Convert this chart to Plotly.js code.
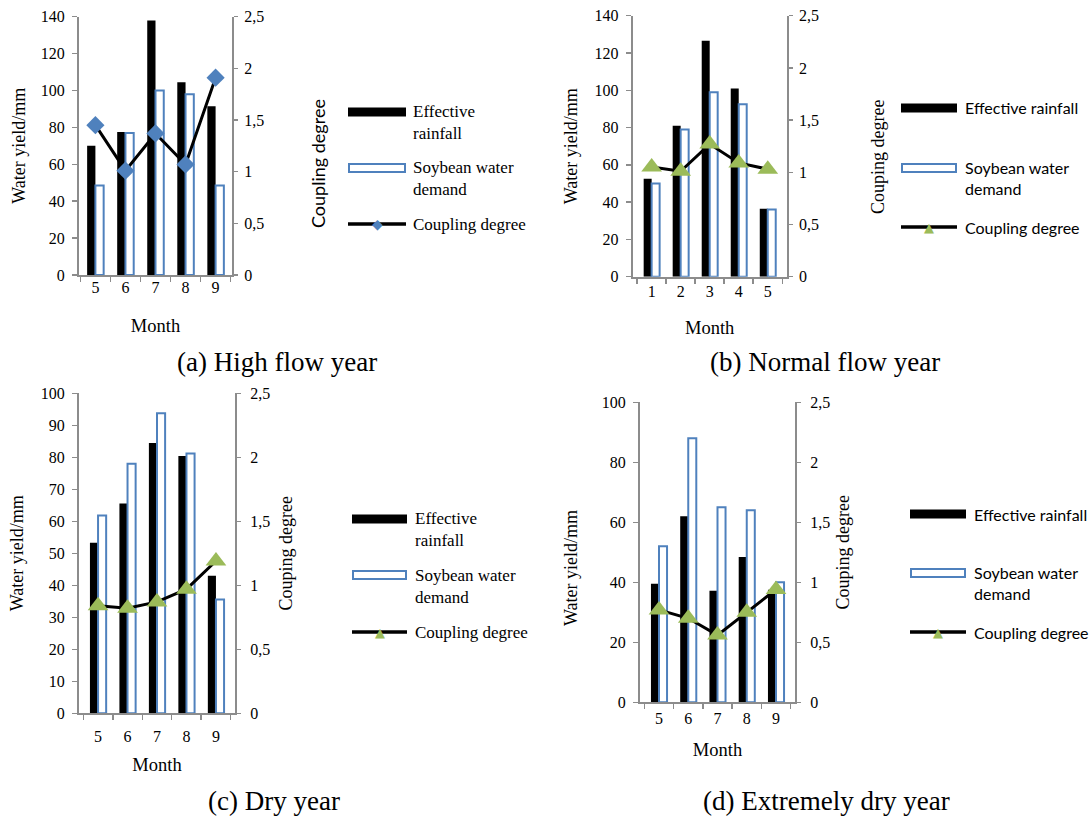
<!DOCTYPE html>
<html><head><meta charset="utf-8">
<script src="https://cdn.plot.ly/plotly-3.0.1.min.js"></script>
<style>html,body{margin:0;padding:0;background:#fff}#chart{width:1092px;height:816px}</style>
</head><body><div id="chart"></div>
<script>
// ---- data ----
const monthsA = ["5","6","7","8","9"];
const rainA = [70, 77.5, 138, 104.5, 91.5];
const demandA = [48.5, 77, 100, 98, 48.5];
const couplingA = [1.45, 1.01, 1.37, 1.07, 1.91];

const monthsB = ["1","2","3","4","5"];
const rainB = [52.5, 81, 126.5, 101, 36.5];
const demandB = [50, 79, 99, 92.5, 36];
const couplingB = [1.05, 1.01, 1.27, 1.09, 1.03];

const monthsC = ["5","6","7","8","9"];
const rainC = [53.3, 65.6, 84.5, 80.4, 43];
const demandC = [61.8, 78, 93.8, 81.2, 35.6];
const couplingC = [0.84, 0.82, 0.87, 0.97, 1.19];

const monthsD = ["5","6","7","8","9"];
const rainD = [39.5, 62, 37.2, 48.4, 37.5];
const demandD = [52, 88, 65, 64, 40];
const couplingD = [0.77, 0.70, 0.56, 0.75, 0.94];

const seriesNames = ["Effective rainfall", "Soybean water demand", "Coupling degree"];
const captions = ["(a) High flow year", "(b) Normal flow year", "(c) Dry year", "(d) Extremely dry year"];
const leftTitle = "Water yield/mm";
const rightTitles = ["Coupling degree", "Couping degree", "Couping degree", "Couping degree"];
const xTitle = "Month";
const legendSerif = ["Effective<br>rainfall", "Soybean water<br>demand", "Coupling degree"];
const legendSans = ["Effective rainfall", "Soybean water<br>demand", "Coupling degree"];

// ---- styling / layout ----
const W = 1092, H = 816;
const px = x => x / W, py = y => 1 - y / H;
const SERIF = 'Liberation Serif, Tinos, Times New Roman, DejaVu Serif, serif';
const SANS = 'Lato, Liberation Sans, sans-serif';
const BLUE = '#4F81BD', GREEN = '#9BBB59', AX = '#8c8c8c';

// lAnn / rAnn: when set, the axis title is placed as a free annotation at that pixel centre
const panels = [
  {months: monthsA, rain: rainA, demand: demandA, coup: couplingA, sym: 'diamond', col: BLUE, msize: 14,
   x0: 79, x1: 232, yb: 275, yt: 16.7, ymax: 140, dtick: 20,
   lstand: 10, lAnn: null, rstand: 50, rAnn: [318, 164], rfont: SANS, rsize: 18, rls: 3, xls: -3, xstand: 24,
   leg: {x0: 348, x1: 406, txt: 411, ys: [112, 168, 224], font: SERIF, fsize: 17, labels: legendSerif, ty: [122, 178, 224]},
   cap: {x: 277, y: 362}},
  {months: monthsB, rain: rainB, demand: demandB, coup: couplingB, sym: 'triangle-up', col: GREEN, msize: 18,
   x0: 632.7, x1: 786.7, yb: 276.7, yt: 15.7, ymax: 140, dtick: 20,
   lstand: 12, lAnn: null, rstand: 52, rAnn: [878, 157], rfont: SERIF, rsize: 18, rls: 3, xls: -1, xstand: 22,
   leg: {x0: 901, x1: 957, txt: 963, ys: [108, 168, 227], font: SANS, fsize: 16, labels: legendSans, ty: [108, 178, 227]},
   cap: {x: 825, y: 362}},
  {months: monthsC, rain: rainC, demand: demandC, coup: couplingC, sym: 'triangle-up', col: GREEN, msize: 18,
   x0: 79, x1: 235, yb: 713.3, yt: 393.3, ymax: 100, dtick: 10,
   lstand: 12, lAnn: null, rstand: 10, rAnn: null, rfont: SERIF, rsize: 18, rls: 6, xls: 7, xstand: 15,
   leg: {x0: 352, x1: 407, txt: 413, ys: [519, 575, 632], font: SERIF, fsize: 17, labels: legendSerif, ty: [529, 586, 632]},
   cap: {x: 274, y: 801}},
  {months: monthsD, rain: rainD, demand: demandD, coup: couplingD, sym: 'triangle-up', col: GREEN, msize: 18,
   x0: 640, x1: 795, yb: 702.3, yt: 402.3, ymax: 100, dtick: 20,
   lstand: 12, lAnn: [571, 568], rstand: 7, rAnn: null, rfont: SERIF, rsize: 18, rls: 6, xls: 0, xstand: 18,
   leg: {x0: 910, x1: 966, txt: 972, ys: [514, 573, 632], font: SANS, fsize: 16, labels: legendSans, ty: [514, 583, 632]},
   cap: {x: 826, y: 801}}
];

const data = [];
const layout = {
  width: W, height: H, autosize: false,
  margin: {l: 0, r: 0, t: 0, b: 0},
  paper_bgcolor: '#fff', plot_bgcolor: 'rgba(0,0,0,0)',
  showlegend: false, barmode: 'group', bargap: 0.45, bargroupgap: 0,
  separators: ',.',
  font: {family: SERIF, size: 16, color: '#000'},
  shapes: [], annotations: []
};

function vTitle(text, pos, font) {
  layout.annotations.push({xref: 'paper', yref: 'paper', x: px(pos[0]), y: py(pos[1]), text: text,
    textangle: -90, showarrow: false, xanchor: 'center', yanchor: 'middle', font: font});
}

panels.forEach((p, i) => {
  const n = i + 1;
  const xa = n === 1 ? 'x' : 'x' + n;
  const ya = n === 1 ? 'y' : 'y' + n;
  const yr = 'y' + (n + 4);
  data.push({type: 'bar', x: p.months, y: p.rain, name: seriesNames[0], xaxis: xa, yaxis: ya,
    marker: {color: '#000', line: {width: 0}}, hoverinfo: 'x+y'});
  data.push({type: 'bar', x: p.months, y: p.demand, name: seriesNames[1], xaxis: xa, yaxis: ya,
    marker: {color: '#fff', line: {color: BLUE, width: 2}}, hoverinfo: 'x+y'});
  data.push({type: 'scatter', mode: 'lines+markers', x: p.months, y: p.coup, name: seriesNames[2], xaxis: xa, yaxis: yr,
    line: {color: '#000', width: 3}, marker: {symbol: p.sym, size: p.msize, color: p.col}, cliponaxis: false});

  const xkey = n === 1 ? 'xaxis' : 'xaxis' + n;
  const ykey = n === 1 ? 'yaxis' : 'yaxis' + n;
  const rkey = 'yaxis' + (n + 4);
  const lFont = {family: SERIF, size: 18, color: '#000'};
  const rFont = {family: p.rfont, size: p.rsize, color: '#000'};
  layout[xkey] = {
    domain: [px(p.x0), px(p.x1)], anchor: ya, type: 'category',
    showline: true, linecolor: AX, linewidth: 2, showgrid: false, zeroline: false,
    ticks: 'outside', tickson: 'boundaries', ticklen: 5, tickcolor: AX, tickwidth: 1.5,
    tickfont: {family: SERIF, size: 16, color: '#000'}, ticklabelstandoff: p.xls,
    title: {text: xTitle, font: {family: SERIF, size: 18.5, color: '#000'}, standoff: p.xstand}
  };
  layout[ykey] = {
    domain: [py(p.yb), py(p.yt)], anchor: xa, range: [0, p.ymax], dtick: p.dtick,
    showline: true, linecolor: AX, linewidth: 2, showgrid: false, zeroline: false,
    ticks: 'outside', ticklen: 5, tickcolor: AX, tickwidth: 1.5,
    tickfont: {family: SERIF, size: 16, color: '#000'}, ticklabelstandoff: 4,
    title: p.lAnn ? {text: ''} : {text: leftTitle, font: lFont, standoff: p.lstand}
  };
  if (p.lAnn) vTitle(leftTitle, p.lAnn, lFont);
  layout[rkey] = {
    overlaying: ya, anchor: xa, side: 'right', range: [0, 2.5], dtick: 0.5,
    showline: true, linecolor: AX, linewidth: 2, showgrid: false, zeroline: false,
    ticks: 'outside', ticklen: 4, tickcolor: AX, tickwidth: 1.5,
    tickfont: {family: SERIF, size: 16, color: '#000'}, ticklabelstandoff: p.rls,
    title: p.rAnn ? {text: ''} : {text: rightTitles[i], font: rFont, standoff: p.rstand}
  };
  if (p.rAnn) vTitle(rightTitles[i], p.rAnn, rFont);

  // manual legend
  const L = p.leg;
  layout.shapes.push({type: 'rect', xref: 'paper', yref: 'paper', x0: px(L.x0), x1: px(L.x1),
    y0: py(L.ys[0] - 4.5), y1: py(L.ys[0] + 4.5), fillcolor: '#000', line: {width: 0}});
  layout.shapes.push({type: 'rect', xref: 'paper', yref: 'paper', x0: px(L.x0 + 1), x1: px(L.x1 - 1),
    y0: py(L.ys[1] - 4), y1: py(L.ys[1] + 4), fillcolor: '#fff', line: {color: BLUE, width: 2}});
  layout.shapes.push({type: 'line', xref: 'paper', yref: 'paper', x0: px(L.x0), x1: px(L.x1),
    y0: py(L.ys[2]), y1: py(L.ys[2]), line: {color: '#000', width: 3.5}});
  layout.annotations.push({xref: 'paper', yref: 'paper', x: px((L.x0 + L.x1) / 2), y: py(L.ys[2]),
    text: p.sym === 'diamond' ? '◆' : '▲', showarrow: false, xanchor: 'center', yanchor: 'middle',
    font: {family: 'DejaVu Sans', size: p.sym === 'diamond' ? 14 : 13, color: p.col}});
  L.labels.forEach((t, k) => {
    layout.annotations.push({xref: 'paper', yref: 'paper', x: px(L.txt), y: py(L.ty[k]), text: t,
      showarrow: false, xanchor: 'left', yanchor: 'middle', align: 'left',
      font: {family: L.font, size: L.fsize, color: '#000'}});
  });
  // caption
  layout.annotations.push({xref: 'paper', yref: 'paper', x: px(p.cap.x), y: py(p.cap.y), text: captions[i],
    showarrow: false, xanchor: 'center', yanchor: 'middle', font: {family: SERIF, size: 27, color: '#000'}});
});

Plotly.newPlot('chart', data, layout, {displayModeBar: false, staticPlot: true});
</script></body></html>
